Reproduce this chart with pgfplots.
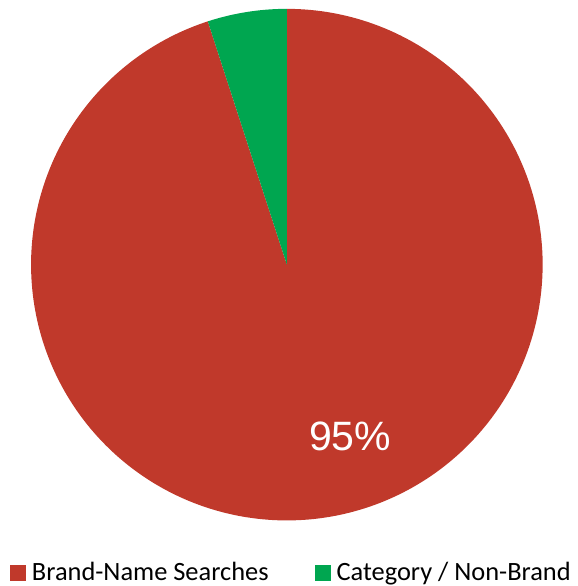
\documentclass[border=0pt]{standalone}
\usepackage{pgfplots}
\usepackage{pgfplotstable}
\pgfplotsset{compat=1.18}
\usepackage{fontspec}
\setmainfont{Carlito}
\newfontfamily\arialfont{Liberation Sans}
\definecolor{brandred}{RGB}{192,57,43}
\definecolor{catgreen}{RGB}{0,166,80}

\pgfplotstableread{
label value
Brand 95
Category 5
}\piedata
\pgfplotstablegetelem{0}{value}\of\piedata \let\valA\pgfplotsretval
\pgfplotstablegetelem{1}{value}\of\piedata \let\valB\pgfplotsretval
\pgfmathsetmacro{\angA}{90-3.6*\valA}
\pgfmathsetmacro{\angB}{\angA-3.6*\valB}

\begin{document}
\begin{tikzpicture}
\begin{axis}[
  scale only axis,
  width=577pt, height=586pt,
  xmin=-1.1214, xmax=1.1343,
  ymin=-1.2563, ymax=1.0346,
  hide axis,
  clip=false,
  legend columns=2,
  legend style={
    at={(0.0173,0.0196)}, anchor=west,
    draw=none, fill=none, inner sep=0pt, outer sep=0pt,
    font=\fontsize{26.4}{30}\selectfont,
    nodes={inner sep=0pt, text height=17pt, text depth=5.5pt},
    /tikz/column 2/.style={column sep=46pt},
  },
  legend cell align=left,
  legend image code/.code={
    \fill[#1] (0pt,-6pt) rectangle (16pt,10pt);
    \path (22pt,0pt);
  },
]
\path (rel axis cs:0,0) rectangle (rel axis cs:1,1);
\addplot[fill=brandred, draw=none, domain=\angA:90, samples=300, variable=\t]
  ({cos(\t)},{sin(\t)}) -- (axis cs:0,0) -- cycle;
\addlegendentry{Brand-Name Searches}
\addplot[fill=catgreen, draw=none, domain=\angB:\angA, samples=40, variable=\t]
  ({cos(\t)},{sin(\t)}) -- (axis cs:0,0) -- cycle;
\addlegendentry{Category / Non-Brand}
\node[text=white, font=\arialfont\fontsize{41}{48}\selectfont] at (axis cs:0.247,-0.670) {95\%};
\end{axis}
\end{tikzpicture}
\end{document}
